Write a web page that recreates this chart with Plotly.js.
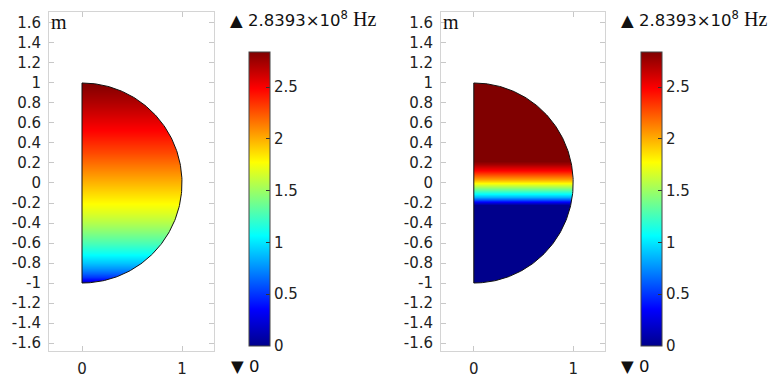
<!DOCTYPE html>
<html>
<head>
<meta charset="utf-8">
<script src="https://cdn.plot.ly/plotly-3.0.1.min.js"></script>
<style>html,body{margin:0;padding:0;background:#fff;}#chart{width:773px;height:378px;}</style>
</head>
<body>
<div id="chart"></div>
<script>
// ---- data (frequency in units of 1e8 Hz) ----
var yLeft  = [-1, -0.97, -0.94, -0.9, -0.85, -0.8, -0.7, -0.6, -0.5, -0.4, -0.3, -0.2, -0.1, 0, 0.1, 0.2, 0.3, 0.4, 0.5, 0.6, 0.7, 0.8, 0.9, 1];
var fLeft  = [0.0, 0.35, 0.5, 0.64, 0.78, 0.9, 1.1, 1.27, 1.42, 1.56, 1.68, 1.78, 1.88, 1.98, 2.08, 2.18, 2.28, 2.37, 2.46, 2.54, 2.62, 2.70, 2.77, 2.84];
var yRight = [-1, -0.22, -0.2, -0.17, -0.14, -0.11, -0.08, -0.05, -0.02, 0.01, 0.04, 0.07, 0.1, 0.13, 0.16, 0.19, 0.22, 1];
var fRight = [0, 0, 0.2, 0.55, 0.85, 1.05, 1.25, 1.45, 1.65, 1.85, 2.05, 2.2, 2.35, 2.5, 2.62, 2.75, 2.84, 2.84];
var fMax = 2.8393;
var fMin = 0;
var xEdges = [0, 0.5, 1];
var yTickVals = [-1.6,-1.4,-1.2,-1,-0.8,-0.6,-0.4,-0.2,0,0.2,0.4,0.6,0.8,1,1.2,1.4,1.6];
var yTickText = ['-1.6','-1.4','-1.2','-1','-0.8','-0.6','-0.4','-0.2','0','0.2','0.4','0.6','0.8','1','1.2','1.4','1.6'];
var xTickVals = [0, 1];
var xTickText = ['0', '1'];
var cbTickVals = [0, 0.5, 1, 1.5, 2, 2.5];
var cbTickText = ['0', '0.5', '1', '1.5', '2', '2.5'];
var maxLabel = '\u25B2 2.8393\u00D710<sup>8</sup> <span style="font-family:\'Liberation Serif\';font-size:20px">Hz</span>';
var minLabel = '\u25BC 0';
var unitLabel = 'm';
var jet = [[0, 'rgb(0,0,140)'], [0.125, 'rgb(0,0,255)'], [0.375, 'rgb(0,255,255)'],
           [0.625, 'rgb(255,255,0)'], [0.875, 'rgb(255,0,0)'], [1, 'rgb(128,0,0)']];

// ---- geometry of the half-disk (radius 1) ----
var arcX = [], arcY = [];
for (var i = 0; i <= 180; i++) {
  var a = Math.PI / 2 - i * Math.PI / 180;
  arcX.push(Math.cos(a)); arcY.push(Math.sin(a));
}
var outlineX = arcX.concat([0]);
var outlineY = arcY.concat([1]);
var maskX = arcX.concat([-0.1, -0.1, 1.2, 1.2, -0.1, -0.1, 0]);
var maskY = arcY.concat([-1, -1.9, -1.9, 1.9, 1.9, 1, 1]);

function rows(vals) { return vals.map(function (v) { return [v, v]; }); }

var font = 'DejaVu Sans, sans-serif';
var tcol = '#222';

function heat(y, f, xa, ya, cbx) {
  return {
    type: 'heatmap', x: xEdges, y: y, z: rows(f),
    xaxis: xa, yaxis: ya, zsmooth: 'best',
    colorscale: jet, zmin: fMin, zmax: fMax, hoverinfo: 'skip',
    colorbar: {
      x: cbx, xanchor: 'left', xref: 'paper', xpad: 0, ypad: 0,
      y: 0.4735, yanchor: 'middle', len: 0.778, lenmode: 'fraction',
      thickness: 21, thicknessmode: 'pixels',
      outlinewidth: 1, outlinecolor: '#444',
      tickvals: cbTickVals, ticktext: cbTickText,
      ticks: 'inside', ticklen: 4, tickcolor: '#333', ticklabelstandoff: 4,
      tickfont: {family: font, size: 15, color: tcol}
    }
  };
}
function mask(xa, ya) {
  return {type: 'scatter', mode: 'lines', x: maskX, y: maskY, xaxis: xa, yaxis: ya,
    fill: 'toself', fillcolor: '#ffffff', line: {width: 0, color: 'rgba(0,0,0,0)'},
    hoverinfo: 'skip', showlegend: false};
}
function outline(xa, ya) {
  return {type: 'scatter', mode: 'lines', x: outlineX, y: outlineY, xaxis: xa, yaxis: ya,
    line: {width: 1, color: '#111'}, hoverinfo: 'skip', showlegend: false};
}

var data = [
  heat(yLeft, fLeft, 'x', 'y', 249 / 773), mask('x', 'y'), outline('x', 'y'),
  heat(yRight, fRight, 'x2', 'y2', 641 / 773), mask('x2', 'y2'), outline('x2', 'y2')
];

function xax(dom, anchor) {
  return {domain: dom, anchor: anchor, range: [-0.33, 1.32], showgrid: false, zeroline: false,
    showline: true, linecolor: '#d4d4d4', linewidth: 1, mirror: 'ticks',
    ticks: 'inside', ticklen: 5, tickcolor: '#c8c8c8',
    tickvals: xTickVals, ticktext: xTickText, ticklabelstandoff: 4,
    tickfont: {family: font, size: 15, color: tcol}, fixedrange: true};
}
function yax(anchor) {
  return {domain: [0.0714, 0.9683], anchor: anchor, range: [-1.68, 1.71], showgrid: false, zeroline: false,
    showline: true, linecolor: '#d4d4d4', linewidth: 1, mirror: 'ticks',
    ticks: 'inside', ticklen: 5, tickcolor: '#c8c8c8',
    tickvals: yTickVals, ticktext: yTickText, ticklabelstandoff: 4,
    tickfont: {family: font, size: 15, color: tcol}, fixedrange: true};
}

function ann(x, y, text, xanchor, fam, size) {
  return {xref: 'paper', yref: 'paper', x: x, y: y, text: text, showarrow: false,
    xanchor: xanchor, yanchor: 'middle', font: {family: fam, size: size, color: '#111'}};
}

var layout = {
  width: 773, height: 378, margin: {l: 0, r: 0, t: 0, b: 0},
  paper_bgcolor: '#fff', plot_bgcolor: '#fff', showlegend: false,
  xaxis: xax([49 / 773, 214 / 773], 'y'),
  yaxis: yax('x'),
  xaxis2: xax([441 / 773, 605 / 773], 'y2'),
  yaxis2: yax('x2'),
  annotations: [
    ann(49 / 773, (378 - 22) / 378, unitLabel, 'left', 'Liberation Serif, serif', 20),
    ann(441 / 773, (378 - 22) / 378, unitLabel, 'left', 'Liberation Serif, serif', 20),
    ann(228 / 773, (378 - 19) / 378, maxLabel, 'left', font, 16.5),
    ann(619 / 773, (378 - 19) / 378, maxLabel, 'left', font, 16.5),
    ann(229 / 773, (378 - 366) / 378, minLabel, 'left', font, 16.5),
    ann(619 / 773, (378 - 366) / 378, minLabel, 'left', font, 16.5)
  ]
};

Plotly.newPlot('chart', data, layout, {displayModeBar: false, staticPlot: true});
</script>
</body>
</html>
